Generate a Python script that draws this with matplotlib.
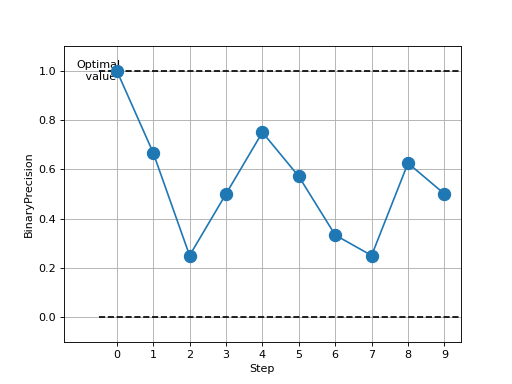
import matplotlib
matplotlib.use('Agg')
import matplotlib.pyplot as plt
import numpy as np

steps = np.arange(10)
precision = [1.0, 0.667, 0.25, 0.5, 0.75, 0.571, 0.333, 0.25, 0.625, 0.5]

fig = plt.figure(figsize=(6.4, 4.8), dpi=80)
ax = fig.add_subplot(111)
ax.plot(steps, precision, marker='o', markersize=11, zorder=3)
ax.hlines([1.0, 0.0], -0.5, 9.5, colors='k', linestyles='--', zorder=2)
ax.text(-0.5, 1.0, 'Optimal\n value', ha='center', va='center', zorder=2)
ax.set_xlim(-1.45, 9.45)
ax.set_ylim(-0.1, 1.1)
ax.set_xticks(steps)
ax.grid(True)
ax.set_xlabel('Step')
ax.set_ylabel('BinaryPrecision')
fig.savefig('out.png')
